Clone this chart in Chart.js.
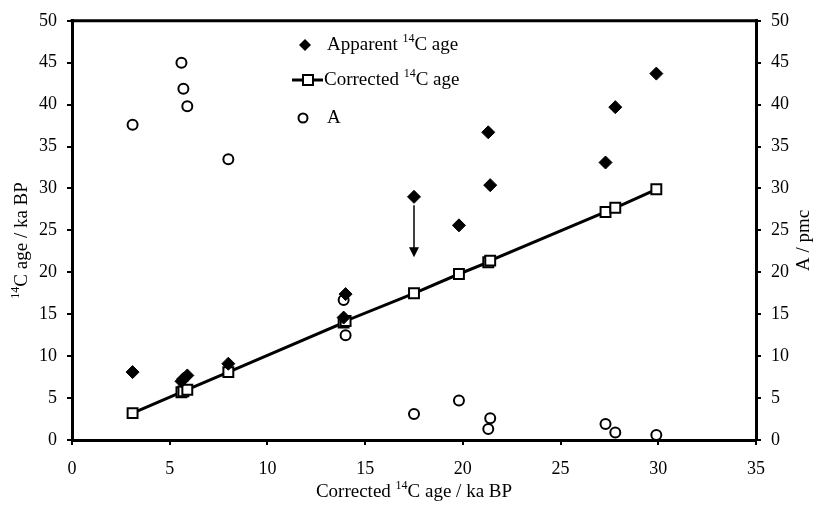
<!DOCTYPE html>
<html>
<head>
<meta charset="utf-8">
<script src="https://cdn.jsdelivr.net/npm/chart.js@4/dist/chart.umd.min.js"></script>
<style>
html, body { margin: 0; padding: 0; background: #fff; }
</style>
</head>
<body>
<canvas id="GC1" width="816" height="515"></canvas>
<script>
//
// DATOS
//
var edadCorregidaX = [3.1, 5.6, 5.7, 5.9, 8.0, 13.9, 14.0, 17.5, 19.8, 21.3, 21.4, 27.3, 27.8, 29.9];
var edadAparente = [8.1, 7.0, 7.3, 7.7, 9.1, 14.6, 17.4, 29.0, 25.6, 36.7, 30.4, 33.1, 39.7, 43.7];
var edadCorregida = [3.2, 5.7, 5.8, 6.0, 8.1, 14.0, 14.2, 17.5, 19.8, 21.2, 21.4, 27.2, 27.7, 29.9];
var valorA = [37.6, 45.0, 41.9, 39.8, 33.5, 16.7, 12.5, 3.1, 4.7, 1.3, 2.6, 1.9, 0.9, 0.6];
var flechaX = [17.5, 17.5];
var flechaY = [28.0, 21.8];
var etiquetasLeyenda = ["Apparent ", "Corrected ", "A"];

var FUENTE = "'Liberation Serif', 'Times New Roman', serif";

FNPuntos = function (xs, ys) {
    var r = [];
    for (var i = 0; i < xs.length; i++) r.push({ x: xs[i], y: ys[i] });
    return r;
}

// texto con superindice "14" antes de la C
FNTextoSup = function (ctx, partes, x, y, size) {
    var total = 0;
    partes.forEach(function (p) {
        ctx.font = (p[1] ? Math.round(size * 0.62) : size) + "px " + FUENTE;
        total += ctx.measureText(p[0]).width;
    });
    var cx = x - total / 2;
    ctx.textBaseline = "middle";
    ctx.textAlign = "left";
    partes.forEach(function (p) {
        ctx.font = (p[1] ? Math.round(size * 0.62) : size) + "px " + FUENTE;
        ctx.fillText(p[0], cx, p[1] ? y - size * 0.35 : y);
        cx += ctx.measureText(p[0]).width;
    });
}

FNTextoSupIzq = function (ctx, partes, x, y, size) {
    var total = 0;
    partes.forEach(function (p) {
        ctx.font = (p[1] ? Math.round(size * 0.62) : size) + "px " + FUENTE;
        total += ctx.measureText(p[0]).width;
    });
    FNTextoSup(ctx, partes, x + total / 2, y, size);
}

var marcoPlugin = {
    id: "marco",
    afterDraw: function (chart) {
        var ctx = chart.ctx;
        var a = chart.chartArea;
        var sx = chart.scales.x, sy = chart.scales.y;
        ctx.save();
        ctx.fillStyle = "#000";
        ctx.strokeStyle = "#000";

        // borde superior
        ctx.lineWidth = 3;
        ctx.beginPath();
        ctx.moveTo(a.left - 1.5, a.top);
        ctx.lineTo(a.right + 1.5, a.top);
        ctx.stroke();

        // flecha
        var fx = sx.getPixelForValue(flechaX[0]);
        var fy1 = sy.getPixelForValue(flechaY[0]);
        var fy2 = sy.getPixelForValue(flechaY[1]);
        ctx.lineWidth = 1.5;
        ctx.beginPath();
        ctx.moveTo(fx, fy1);
        ctx.lineTo(fx, fy2 - 9);
        ctx.stroke();
        ctx.beginPath();
        ctx.moveTo(fx - 5, fy2 - 10);
        ctx.lineTo(fx + 5, fy2 - 10);
        ctx.lineTo(fx, fy2);
        ctx.closePath();
        ctx.fill();

        // leyenda
        var lx = 305, tx = 327;
        var filas = [45, 80, 118];
        ctx.beginPath();
        ctx.moveTo(lx, filas[0] - 6);
        ctx.lineTo(lx + 6, filas[0]);
        ctx.lineTo(lx, filas[0] + 6);
        ctx.lineTo(lx - 6, filas[0]);
        ctx.closePath();
        ctx.fill();
        FNTextoSupIzq(ctx, [[etiquetasLeyenda[0], false], ["14", true], ["C age", false]], tx, filas[0], 19);

        ctx.lineWidth = 3;
        ctx.beginPath();
        ctx.moveTo(lx - 13, filas[1]);
        ctx.lineTo(lx + 18, filas[1]);
        ctx.stroke();
        ctx.fillStyle = "#fff";
        ctx.fillRect(lx - 2, filas[1] - 5, 10, 10);
        ctx.lineWidth = 2;
        ctx.strokeRect(lx - 2, filas[1] - 5, 10, 10);
        ctx.fillStyle = "#000";
        FNTextoSupIzq(ctx, [[etiquetasLeyenda[1], false], ["14", true], ["C age", false]], tx - 3, filas[1], 19);

        ctx.beginPath();
        ctx.arc(lx - 2, filas[2], 4.5, 0, Math.PI * 2);
        ctx.fillStyle = "#fff";
        ctx.fill();
        ctx.lineWidth = 2;
        ctx.stroke();
        ctx.fillStyle = "#000";
        FNTextoSupIzq(ctx, [[etiquetasLeyenda[2], false]], tx, filas[2], 19);

        // titulos de ejes
        FNTextoSup(ctx, [["Corrected ", false], ["14", true], ["C age / ka BP", false]], (a.left + a.right) / 2, 492, 19);

        ctx.save();
        ctx.translate(22, (a.top + a.bottom) / 2 + 10);
        ctx.rotate(-Math.PI / 2);
        FNTextoSup(ctx, [["14", true], ["C age / ka BP", false]], 0, 0, 19);
        ctx.restore();

        ctx.save();
        ctx.translate(804, (a.top + a.bottom) / 2 + 10);
        ctx.rotate(-Math.PI / 2);
        FNTextoSup(ctx, [["A / pmc", false]], 0, 0, 19);
        ctx.restore();

        ctx.restore();
    }
};

var ejeComun = function (pos, min, max, ancho) {
    return {
        type: "linear",
        position: pos,
        min: min,
        max: max,
        ticks: { stepSize: 5, color: "#000", font: { family: FUENTE, size: 18 }, padding: 10 },
        grid: { drawOnChartArea: false, drawTicks: true, tickLength: 5, color: "#000", lineWidth: 2 },
        border: { display: true, color: "#000", width: 3 },
        afterFit: function (s) {
            if (pos === "bottom") s.height = ancho; else s.width = ancho;
        }
    };
};

var ejeX = ejeComun("bottom", 0, 35, 75);
ejeX.ticks.padding = 13;
var ejeY = ejeComun("left", 0, 50, 72);
var ejeY2 = ejeComun("right", 0, 50, 60);

new Chart(document.getElementById("GC1"), {
    type: "scatter",
    data: {
        datasets: [{
            label: "Apparent 14C age",
            data: FNPuntos(edadCorregidaX, edadAparente),
            pointStyle: "rectRot",
            pointRadius: 6.5,
            backgroundColor: "#000",
            borderColor: "#000",
            borderWidth: 1,
            showLine: false,
            yAxisID: "y"
        }, {
            label: "Corrected 14C age",
            data: FNPuntos(edadCorregidaX, edadCorregida),
            pointStyle: "rect",
            pointRadius: 7,
            pointBackgroundColor: "#fff",
            pointBorderColor: "#000",
            pointBorderWidth: 2,
            borderColor: "#000",
            borderWidth: 3,
            showLine: true,
            yAxisID: "y"
        }, {
            label: "A",
            data: FNPuntos(edadCorregidaX, valorA),
            pointStyle: "circle",
            pointRadius: 5,
            backgroundColor: "#fff",
            borderColor: "#000",
            borderWidth: 2,
            showLine: false,
            yAxisID: "y2"
        }]
    },
    options: {
        responsive: false,
        animation: false,
        layout: { padding: { top: 20, left: 0, right: 0, bottom: 0 } },
        plugins: { legend: { display: false }, tooltip: { enabled: false } },
        scales: { x: ejeX, y: ejeY, y2: ejeY2 }
    },
    plugins: [marcoPlugin]
});
</script>
</body>
</html>
